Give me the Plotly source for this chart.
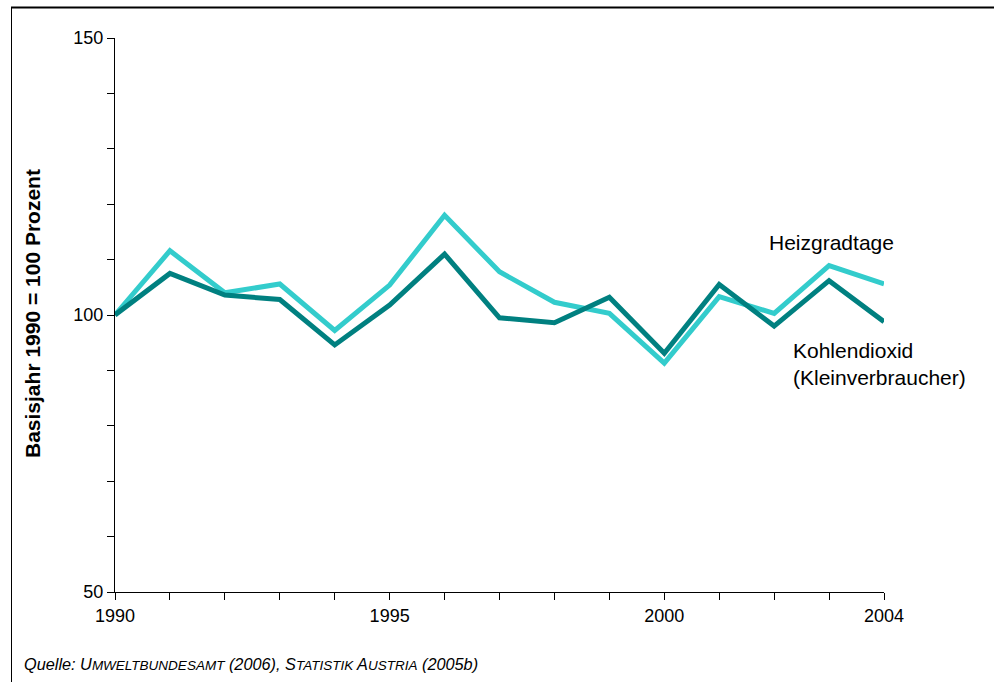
import plotly.graph_objects as go

years = list(range(1990, 2005))
heizgradtage = [100, 111.6, 104.0, 105.6, 97.2, 105.4, 118.0, 107.8, 102.3, 100.3, 91.3, 103.3, 100.3, 108.9, 105.6]
kohlendioxid = [100, 107.5, 103.6, 102.8, 94.6, 101.8, 111.0, 99.5, 98.6, 103.2, 93.1, 105.5, 98.0, 106.2, 98.8]

y_ticks = list(range(50, 151, 10))
y_ticktext = ["50" if v == 50 else "100" if v == 100 else "150" if v == 150 else "" for v in y_ticks]
x_ticktext = [str(y) if y in (1990, 1995, 2000, 2004) else "" for y in years]

fig = go.Figure()
fig.add_trace(go.Scatter(x=years, y=heizgradtage, mode="lines", name="Heizgradtage",
                         line=dict(color="#33CCCC", width=5)))
fig.add_trace(go.Scatter(x=years, y=kohlendioxid, mode="lines", name="Kohlendioxid (Kleinverbraucher)",
                         line=dict(color="#008080", width=5)))

font_family = "Liberation Sans, Arial, sans-serif"

fig.update_layout(
    width=994, height=682,
    margin=dict(l=115, r=110, t=38, b=90),
    paper_bgcolor="white", plot_bgcolor="white",
    showlegend=False,
    font=dict(family=font_family, size=18, color="black"),
    xaxis=dict(range=[1990, 2004], tickvals=years, ticktext=x_ticktext,
               showgrid=False, zeroline=False, showline=True, linecolor="black", linewidth=1,
               ticks="outside", ticklen=7, tickcolor="black", tickfont=dict(size=18)),
    yaxis=dict(range=[50, 150], tickvals=y_ticks, ticktext=y_ticktext,
               showgrid=False, zeroline=False, showline=True, linecolor="black", linewidth=1,
               ticks="outside", ticklen=7, tickcolor="black", tickfont=dict(size=18)),
)

fig.add_annotation(text="<b>Basisjahr 1990 = 100 Prozent</b>", textangle=-90,
                   xref="paper", yref="paper", x=(32 - 115) / 769, y=(592 - 314) / 554,
                   xanchor="center", yanchor="middle",
                   showarrow=False, font=dict(size=21))
fig.add_annotation(text="Heizgradtage", xref="paper", yref="paper",
                   x=(767 - 115) / 769, y=(592 - 242) / 554, xanchor="left", yanchor="middle",
                   showarrow=False, font=dict(size=21))
fig.add_annotation(text="Kohlendioxid<br>(Kleinverbraucher)", xref="paper", yref="paper",
                   x=(791 - 115) / 769, y=(592 - 364) / 554, xanchor="left", yanchor="middle",
                   showarrow=False, font=dict(size=21), align="left")
fig.add_annotation(text="<i>Quelle: U<span style='font-size:13.5px'>MWELTBUNDESAMT</span> (2006), S<span style='font-size:13.5px'>TATISTIK</span> A<span style='font-size:13.5px'>USTRIA</span> (2005b)</i>",
                   xref="paper", yref="paper", x=(22 - 115) / 769, y=(592 - 664) / 554,
                   xanchor="left", yanchor="middle", showarrow=False, font=dict(size=16.3))

# outer frame: top and left lines
fig.add_shape(type="line", xref="paper", yref="paper",
              x0=(11 - 115) / 769, x1=(994 - 115) / 769, y0=(592 - 7.5) / 554, y1=(592 - 7.5) / 554,
              line=dict(color="black", width=2))
fig.add_shape(type="line", xref="paper", yref="paper",
              x0=(11.5 - 115) / 769, x1=(11.5 - 115) / 769, y0=(592 - 7) / 554, y1=(592 - 682) / 554,
              line=dict(color="black", width=1))

fig.write_html("out.html", config={"displayModeBar": False},
               post_script="document.body.style.margin='0';")
